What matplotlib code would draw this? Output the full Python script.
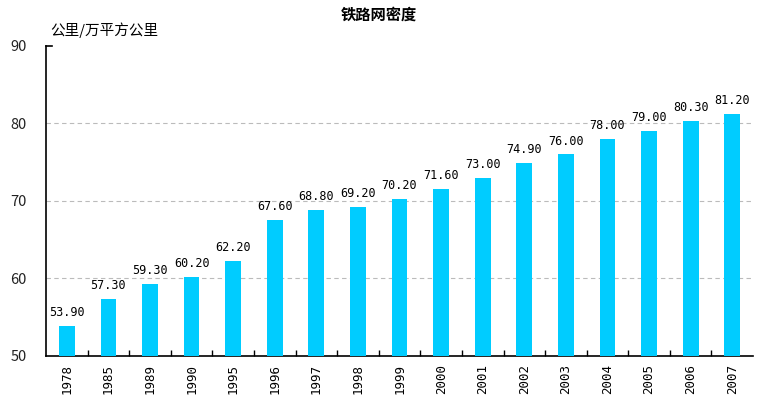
import matplotlib
matplotlib.use("Agg")
import matplotlib.pyplot as plt
import numpy as np

plt.rcParams['font.family'] = ['Noto Sans CJK SC', 'DejaVu Sans']

years = ["1978", "1985", "1989", "1990", "1995", "1996", "1997", "1998", "1999",
         "2000", "2001", "2002", "2003", "2004", "2005", "2006", "2007"]
density = [53.9, 57.3, 59.3, 60.2, 62.2, 67.6, 68.8, 69.2, 70.2,
           71.6, 73.0, 74.9, 76.0, 78.0, 79.0, 80.3, 81.2]
yticks = [50, 60, 70, 80, 90]

fig = plt.figure(figsize=(7.57, 4.08), dpi=100)
ax = fig.add_axes([0.0608, 0.1275, 0.934, 0.7598])

x = np.arange(len(years))
ax.bar(x, density, width=0.38, color='#00CCFF', zorder=3, bottom=0)
ax.set_xlim(-0.5, len(years) - 0.5)
ax.set_ylim(50, 90)
ax.set_yticks(yticks)
ax.set_yticklabels([str(v) for v in yticks], fontsize=10.5, color='#222222')
ax.tick_params(axis='y', length=0, pad=14)
ax.set_xticks(x)
ax.set_xticklabels(years, rotation=90, fontsize=9, family='DejaVu Sans Mono')
ax.tick_params(axis='x', length=0, pad=6)
ax.set_xticks(np.arange(0.5, len(years) - 1, 1), minor=True)
ax.tick_params(axis='x', which='minor', direction='in', length=4, width=1)

for v in [60, 70, 80]:
    ax.axhline(v, color='#BBBBBB', linestyle=(0, (4, 3)), linewidth=0.8, zorder=1)

for xi, v in zip(x, density):
    ax.text(xi, v + 0.9, f"{v:.2f}", ha='center', va='bottom', fontsize=8.5,
            family='DejaVu Sans Mono')

for s in ['top', 'right']:
    ax.spines[s].set_visible(False)
ax.spines['left'].set_linewidth(1.2)
ax.spines['bottom'].set_linewidth(1.2)
ax.plot([0, 0.008], [1, 1], transform=ax.transAxes, color='black', lw=1.2, clip_on=False)

fig.text(0.5, 0.965, "铁路网密度", ha='center', va='center', fontsize=11, fontweight='bold')
fig.text(0.066, 0.925, "公里/万平方公里", ha='left', va='center', fontsize=10.5)

fig.savefig("out.png", dpi=100)
